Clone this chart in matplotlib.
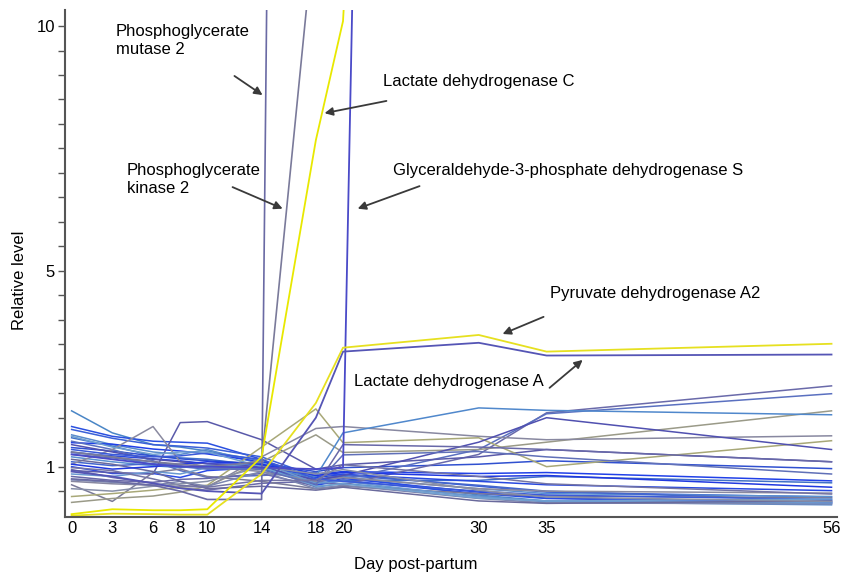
import matplotlib
matplotlib.use("Agg")
import matplotlib.pyplot as plt
import numpy as np

plt.rcParams['font.family'] = ['Liberation Sans', 'DejaVu Sans']

# sampling days
days = [0, 3, 6, 8, 10, 14, 18, 20, 30, 35, 56]

# labelled genes (values above 10 run off the top of the chart)
pgam2 = [0.75, 0.70, 0.62, 0.50, 0.33, 0.33, 108, 110, 110, 110, 110]
pgk2 = [1.30, 1.20, 1.10, 1.05, 1.00, 1.10, 12.3, 40, 60, 60, 60]
ldhc = [0.03, 0.13, 0.11, 0.11, 0.13, 1.20, 7.67, 10.10, 60, 60, 60]
gapds = [1.25, 1.15, 1.05, 1.00, 1.00, 0.98, 0.95, 0.98, 140, 140, 140]
pdha2 = [0.00, 0.04, 0.03, 0.02, 0.02, 0.85, 2.30, 3.43, 3.69, 3.35, 3.51]
ldha = [0.90, 0.80, 0.66, 0.56, 0.50, 0.45, 2.00, 3.35, 3.53, 3.27, 3.29]

# the other glycolytic genes
others = [
    [2.14, 1.69, 1.45, 1.40, 1.32, 1.12, 0.72, 0.80, 0.42, 0.30, 0.28],
    [1.82, 1.62, 1.52, 1.50, 1.48, 1.15, 0.62, 0.72, 0.45, 0.35, 0.25],
    [1.76, 1.58, 1.45, 1.42, 1.38, 1.20, 0.80, 0.85, 0.60, 0.48, 0.38],
    [1.65, 1.45, 1.30, 1.25, 1.35, 1.05, 0.58, 0.66, 0.40, 0.28, 0.22],
    [1.59, 1.42, 1.22, 1.18, 1.15, 1.02, 0.66, 0.72, 0.72, 0.80, 0.67],
    [1.49, 1.46, 1.36, 1.32, 1.26, 1.10, 0.85, 0.90, 0.86, 0.88, 0.71],
    [1.39, 1.32, 1.22, 1.16, 1.12, 1.06, 0.90, 0.98, 1.05, 1.12, 0.96],
    [1.29, 1.22, 1.16, 1.12, 1.06, 1.04, 0.78, 0.84, 0.70, 0.63, 0.51],
    [1.20, 1.10, 1.02, 0.98, 1.02, 1.00, 0.68, 0.78, 0.55, 0.45, 0.39],
    [1.10, 1.02, 1.06, 1.00, 0.95, 0.96, 0.74, 0.82, 0.62, 0.50, 0.31],
    [1.00, 0.86, 0.86, 0.78, 0.92, 0.98, 0.62, 0.76, 0.48, 0.36, 0.27],
    [0.94, 0.78, 0.66, 0.56, 0.52, 0.66, 0.70, 0.63, 1.25, 2.10, 2.65],
    [1.52, 1.35, 1.12, 0.92, 0.78, 0.82, 0.88, 0.74, 1.35, 2.08, 2.49],
    [0.92, 0.88, 0.85, 1.90, 1.92, 1.55, 0.95, 1.04, 1.20, 1.35, 1.10],
    [1.05, 1.35, 1.82, 1.10, 1.00, 0.90, 0.70, 0.78, 0.55, 0.50, 0.46],
    [0.63, 0.29, 0.88, 0.95, 0.80, 0.70, 0.55, 0.60, 0.45, 0.40, 0.36],
    [0.39, 0.45, 0.52, 0.58, 0.62, 1.40, 2.18, 1.49, 1.59, 1.00, 1.53],
    [0.27, 0.35, 0.40, 0.48, 0.60, 1.10, 1.65, 1.29, 1.35, 1.50, 2.14],
    [0.70, 0.65, 0.62, 0.60, 0.58, 1.20, 1.78, 1.82, 1.62, 1.55, 1.63],
    [1.30, 1.20, 1.05, 1.00, 0.98, 0.95, 0.80, 1.69, 2.20, 2.15, 2.06],
    [1.45, 1.30, 1.15, 1.10, 1.06, 1.00, 0.72, 0.82, 1.50, 2.00, 1.35],
    [0.80, 0.72, 0.68, 0.74, 0.76, 0.86, 0.60, 1.45, 1.40, 1.35, 1.10],
    [0.73, 0.68, 0.62, 0.70, 0.60, 0.90, 0.55, 0.62, 0.35, 0.26, 0.24],
    [0.85, 0.80, 0.90, 0.85, 0.98, 1.08, 0.66, 0.70, 0.38, 0.30, 0.26],
    [1.15, 1.05, 0.90, 0.70, 0.55, 0.60, 0.52, 0.58, 0.30, 0.25, 0.30],
    [1.35, 1.25, 1.20, 1.22, 1.28, 1.15, 0.75, 0.70, 0.50, 0.42, 0.33],
    [1.62, 1.40, 1.25, 1.30, 1.30, 1.00, 0.60, 0.65, 0.36, 0.30, 0.34],
    [1.05, 0.95, 1.00, 1.05, 1.10, 1.05, 0.82, 0.88, 0.80, 0.82, 0.58],
    [1.25, 1.18, 1.10, 1.02, 0.96, 0.94, 0.64, 1.24, 1.31, 1.20, 0.85],
    [0.98, 0.92, 0.75, 0.62, 0.58, 0.72, 0.72, 1.04, 0.80, 0.65, 0.44],
    [0.55, 0.50, 0.60, 0.65, 0.70, 1.00, 0.85, 0.94, 0.52, 0.38, 0.29],
]
other_colors = [
    '#4a86c6', '#2a50e0', '#3a60d8', '#5a8ccc', '#4070c8', '#2040e8',
    '#3050d0', '#2848e0', '#5a90d0', '#4466cc', '#2a4ae6', '#6a6aaa',
    '#5a70c0', '#5a5aaa', '#8a8aa0', '#7a7a98', '#a8a878', '#9a9a88',
    '#8888a0', '#5088cc', '#5050b0', '#6868a8', '#7c86b0', '#6a98d0',
    '#6a6a9c', '#3a5ad8', '#70a0d0', '#2038e0', '#6070b8', '#7474a4',
    '#8890a8',
]

fig = plt.figure(figsize=(8.42, 5.81), dpi=100)
ax = fig.add_axes([0.077, 0.110, 0.917, 0.873])

for vals, c in zip(others, other_colors):
    ax.plot(days, vals, color=c, lw=1.1)

ax.plot(days, pgam2, color='#6a6aa4', lw=1.2)
ax.plot(days, pgk2, color='#7a7a9a', lw=1.2)
ax.plot(days, gapds, color='#4a4ac8', lw=1.3)
ax.plot(days, ldha, color='#5555b5', lw=1.3)
ax.plot(days, pdha2, color='#e6e020', lw=1.3)
ax.plot(days, ldhc, color='#e8e800', lw=1.3)

ax.set_xlim(-0.5, 56.4)
ax.set_ylim(-0.03, 10.33)

ax.set_xticks(days)
ax.set_xticklabels([str(d) for d in days], fontsize=12)
ax.tick_params(axis='x', length=0, pad=3)

yt = np.arange(0.5, 10.01, 0.5)
ax.set_yticks(yt)
ax.set_yticklabels(['1' if t == 1 else '5' if t == 5 else '10' if t == 10 else '' for t in yt],
                   fontsize=12)
ax.tick_params(axis='y', length=5, width=1, color='#555555', pad=2)

for s in ['top', 'right']:
    ax.spines[s].set_visible(False)
for s in ['left', 'bottom']:
    ax.spines[s].set_color('#555555')
    ax.spines[s].set_linewidth(1.5)

ax.set_ylabel('Relative level', fontsize=12)
ax.yaxis.set_label_coords(-0.049, 0.467)
ax.set_xlabel('Day post-partum', fontsize=12)
ax.xaxis.set_label_coords(0.455, -0.079)

arrow = dict(arrowstyle='-|>', color='#3a3a3a', lw=1.3, mutation_scale=12,
             shrinkA=0, shrinkB=0)
notes = [
    ('Phosphoglycerate\nmutase 2', (3.24, 9.71), (12.0, 8.98), (14.07, 8.59)),
    ('Phosphoglycerate\nkinase 2', (4.05, 6.86), (11.86, 6.71), (15.55, 6.27)),
    ('Lactate dehydrogenase C', (22.92, 8.86), (23.2, 8.47), (18.64, 8.22)),
    ('Glyceraldehyde-3-phosphate dehydrogenase S', (23.65, 7.04), (25.64, 6.73), (21.08, 6.27)),
    ('Pyruvate dehydrogenase A2', (35.22, 4.53), (34.78, 4.06), (31.76, 3.71)),
    ('Lactate dehydrogenase A', (20.78, 2.73), (35.22, 2.61), (37.66, 3.18)),
]
for label, pos, tail, head in notes:
    ax.text(pos[0], pos[1], label, fontsize=12, ha='left', va='center', linespacing=1.25)
    ax.annotate('', xy=head, xytext=tail, arrowprops=arrow)

fig.savefig('out.png', dpi=100)
